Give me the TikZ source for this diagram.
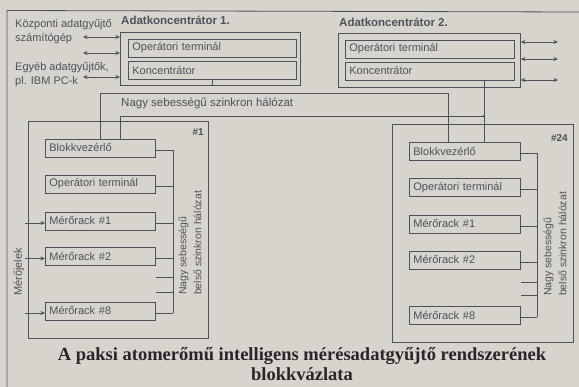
\documentclass[tikz,border=0pt]{standalone}
\usepackage{fontspec}
\setmainfont{Liberation Serif}
\setsansfont{Liberation Sans}
\usetikzlibrary{arrows.meta}

\definecolor{paper}{RGB}{214,212,205}
\definecolor{ink}{RGB}{80,80,90}
\definecolor{capink}{RGB}{45,35,40}

\tikzset{
  wire/.style={draw=ink, line width=0.8pt},
  link/.style={wire, {Stealth[length=4.5pt,width=4pt]}-{Stealth[length=4.5pt,width=4pt]}},
  feed/.style={wire, -{Stealth[length=4.5pt,width=4pt]}},
  lbl/.style={text=ink, font=\sffamily\fontsize{11}{14}\selectfont, inner sep=0pt},
  unitbox/.style={draw=ink, line width=0.8pt, minimum height=18pt, inner xsep=4pt, inner ysep=0pt,
    anchor=west, align=left, text=ink, font=\sffamily\fontsize{11}{12}\selectfont},
  rackbox/.style={unitbox, text width=102pt},
  widebox/.style={unitbox, text width=160pt},
  groupbox/.style={draw=ink, line width=0.8pt, anchor=north west, inner sep=0pt}
}

\begin{document}
\begin{tikzpicture}[x=1pt, y=-1pt]

    % === Paper and frame ===
    \fill[paper] (0,0) rectangle (579,387);
    \useasboundingbox (0,0) rectangle (579,387);
    \draw[wire] (7,387) -- (7,10.5) -- (579,12);

    % === Adatkoncentrator 1 (top left) ===
    \begin{scope}
      \node[groupbox, minimum width=180pt, minimum height=53pt] (ak1) at (120,32) {};
      \node[lbl, anchor=base west, font=\sffamily\bfseries\fontsize{11.5}{12}\selectfont] (ak1t) at (121,25) {Adatkoncentrátor 1.};
      \node[widebox] (ot0a) at (128,48) {Operátori terminál};
      \node[widebox] (kc1) at (128,70.5) {Koncentrátor};
      \draw[wire] (kc1.south) -- (kc1.south |- ak1.south);

      % outside links
      \node[lbl, anchor=west, align=left] (kozp) at (15,32) {Központi adatgyűjtő\\számítógép};
      \node[lbl, anchor=west, align=left] (egyeb) at (15,75) {Egyéb adatgyűjtők,\\pl. IBM PC-k};
      \coordinate (la) at (83,37);
      \coordinate (lb) at (83,53);
      \coordinate (lc) at (83,77);
      \foreach \p in {la,lb,lc}
        \draw[link] (\p) -- (\p -| ak1.west);
    \end{scope}

    % === Adatkoncentrator 2 (top right) ===
    \begin{scope}
      \node[groupbox, minimum width=182pt, minimum height=54pt] (ak2) at (338,33) {};
      \node[lbl, anchor=base west, font=\sffamily\bfseries\fontsize{11.5}{12}\selectfont] (ak2t) at (339,27) {Adatkoncentrátor 2.};
      \node[widebox, text width=161pt] (ot0b) at (345,49) {Operátori terminál};
      \node[widebox, text width=161pt] (kc2) at (345,71) {Koncentrátor};
      \coordinate (ra) at (558,42);
      \coordinate (rb) at (558,59);
      \coordinate (rc) at (558,80);
      \foreach \p in {ra,rb,rc}
        \draw[link] (\p -| ak2.east) -- (\p);
    \end{scope}

    % === Block #1 (left) ===
    \begin{scope}
      \node[groupbox, minimum width=180pt, minimum height=217pt] (g1) at (28,121) {};
      \node[lbl, anchor=north east, font=\sffamily\bfseries\fontsize{10}{10}\selectfont] (n1) at (204,128) {\#1};
      \node[rackbox] (bv1) at (45,148) {Blokkvezérlő};
      \node[rackbox] (ot1) at (45,184) {Operátori terminál};
      \node[rackbox] (m1a) at (45,221) {Mérőrack \#1};
      \node[rackbox] (m2a) at (45,256.5) {Mérőrack \#2};
      \node[rackbox] (m8a) at (45,311) {Mérőrack \#8};

      % internal bus
      \coordinate (bus1) at (173,0);
      \foreach \n in {bv1,ot1,m1a,m2a,m8a}
        \draw[wire] ([yshift=-2pt]\n.east) -- ([yshift=-2pt]\n.east -| bus1);
      \draw[wire] ([yshift=-2pt]bv1.east -| bus1) -- ([yshift=-2pt]m8a.east -| bus1);
      \coordinate (s1a) at (156,277);
      \coordinate (s1b) at (156,292);
      \draw[wire] (s1a) -- (s1a -| bus1);
      \draw[wire] (s1b) -- (s1b -| bus1);
      \node[lbl, rotate=90, align=left, font=\sffamily\fontsize{10.5}{15}\selectfont] (bl1) at (190,243) {Nagy sebességű\\belső szinkron hálózat};

      % measurement inputs
      \coordinate (mj) at (25,0);
      \foreach \n in {m1a,m2a,m8a}
        \draw[feed] ([yshift=-2pt]\n.west -| mj) -- ([yshift=-2pt]\n.west);
      \node[lbl, rotate=90] (mjl) at (19,272) {Mérőjelek};
    \end{scope}

    % === Block #24 (right) ===
    \begin{scope}
      \node[groupbox, minimum width=181pt, minimum height=218pt] (g24) at (392,124) {};
      \node[lbl, anchor=north east, font=\sffamily\bfseries\fontsize{10}{10}\selectfont] (n24) at (568,134) {\#24};
      \node[rackbox, text width=103pt] (bv24) at (409,151.5) {Blokkvezérlő};
      \node[rackbox, text width=103pt] (ot24) at (409,187.5) {Operátori terminál};
      \node[rackbox, text width=103pt] (m1b) at (409,224) {Mérőrack \#1};
      \node[rackbox, text width=103pt] (m2b) at (409,260) {Mérőrack \#2};
      \node[rackbox, text width=103pt] (m8b) at (409,315.5) {Mérőrack \#8};

      % internal bus
      \coordinate (bus24) at (537,0);
      \foreach \n in {bv24,ot24,m1b,m2b,m8b}
        \draw[wire] ([yshift=-2pt]\n.east) -- ([yshift=-2pt]\n.east -| bus24);
      \draw[wire] ([yshift=-2pt]bv24.east -| bus24) -- ([yshift=-2pt]m8b.east -| bus24);
      \coordinate (s24a) at (521,282);
      \coordinate (s24b) at (521,295);
      \draw[wire] (s24a) -- (s24a -| bus24);
      \draw[wire] (s24b) -- (s24b -| bus24);
      \node[lbl, rotate=90, align=left, font=\sffamily\fontsize{10.5}{15}\selectfont] (bl24) at (555,244) {Nagy sebességű\\belső szinkron hálózat};
    \end{scope}

    % === High speed network ===
    \coordinate (netA) at (0,93);
    \coordinate (netB) at (0,116);
    \coordinate (down) at ([xshift=54pt]kc2.south);
    \coordinate (tap) at (down |- netB);
    \draw[wire] (bv1.north) -- (bv1.north |- netA) -| ([xshift=-16.5pt]bv24.north);
    \draw[wire] ([xshift=20pt]bv1.north) |- (tap);
    \draw[wire] (down) -- (down |- bv24.north);
    \fill[ink] (tap) circle (1.2pt);
    \node[lbl, anchor=base west, font=\sffamily\fontsize{11.5}{12}\selectfont] (netl) at (121,107) {Nagy sebességű szinkron hálózat};

    % === Caption ===
    \node[anchor=base, text=capink, font=\bfseries\fontsize{18.5}{20}\selectfont] (cap1) at (302,361)
      {A paksi atomerőmű intelligens mérésadatgyűjtő rendszerének};
    \node[anchor=base, text=capink, font=\bfseries\fontsize{18.5}{20}\selectfont] (cap2) at (302,381) {blokkvázlata};

\end{tikzpicture}
\end{document}
